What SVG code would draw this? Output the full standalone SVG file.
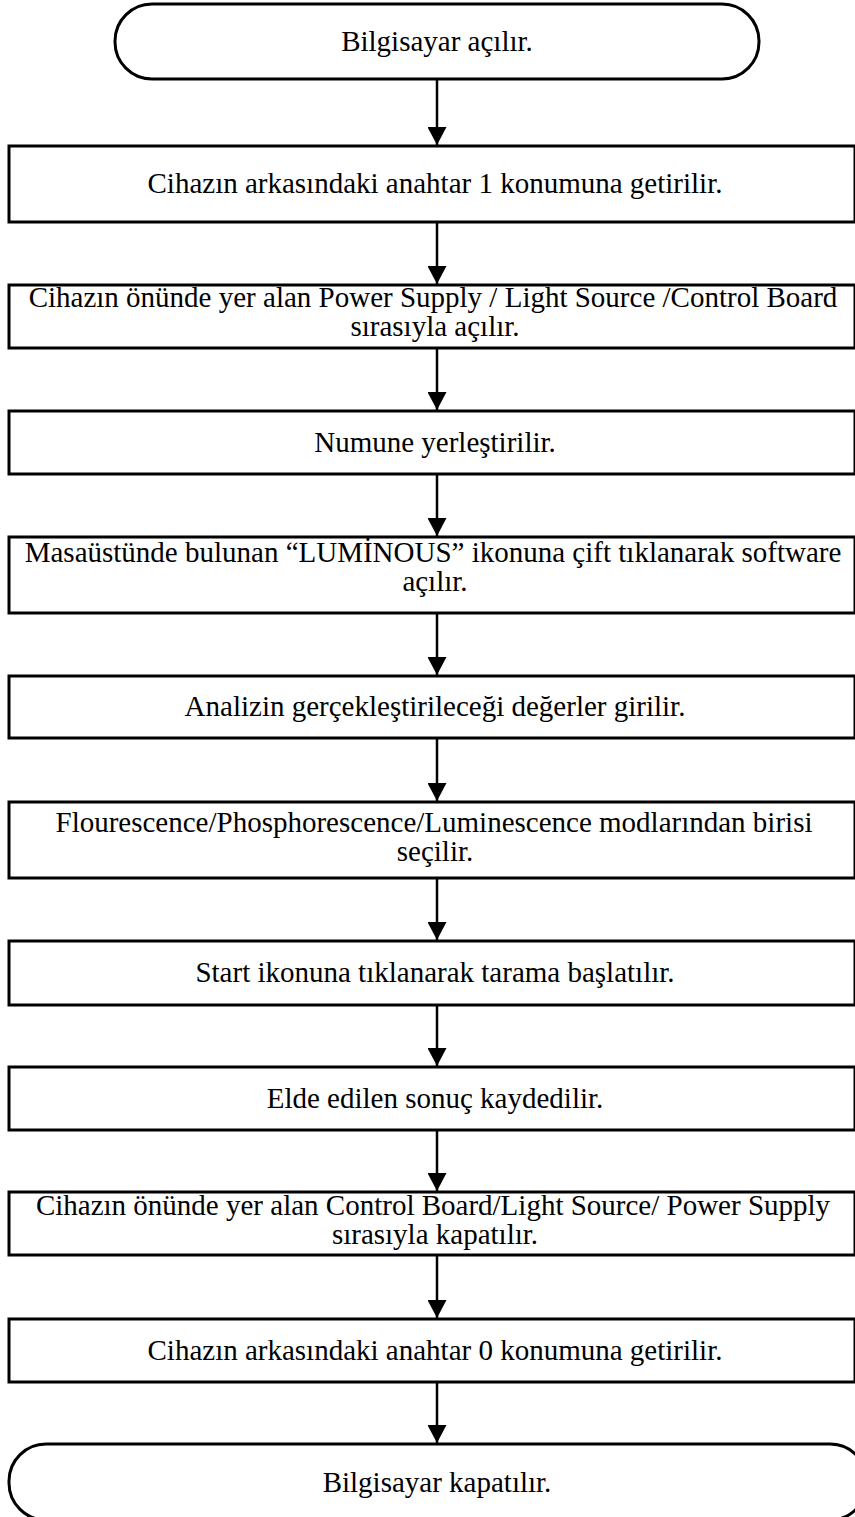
<svg xmlns="http://www.w3.org/2000/svg" width="855" height="1517" viewBox="0 0 855 1517">
<defs>
<style>
.box{fill:#fff;stroke:#000;stroke-width:3}
.t{font-family:"Liberation Serif","Times New Roman",serif;font-size:29px;fill:#000;text-anchor:middle}
.c{stroke:#000;stroke-width:2.5;fill:none}
</style>
<marker id="ah" markerWidth="18" markerHeight="19" refX="18" refY="9.5" orient="auto" markerUnits="userSpaceOnUse" viewBox="0 0 18 19"><path d="M0,0 L18,9.5 L0,19 Z" fill="#000"/></marker>
</defs>
<rect width="855" height="1517" fill="#fff"/>
<g id="connectors">
<line class="c" x1="437" y1="79" x2="437" y2="145" marker-end="url(#ah)"/>
<line class="c" x1="437" y1="222" x2="437" y2="284" marker-end="url(#ah)"/>
<line class="c" x1="437" y1="348" x2="437" y2="410" marker-end="url(#ah)"/>
<line class="c" x1="437" y1="474" x2="437" y2="536" marker-end="url(#ah)"/>
<line class="c" x1="437" y1="613" x2="437" y2="675" marker-end="url(#ah)"/>
<line class="c" x1="437" y1="738" x2="437" y2="801" marker-end="url(#ah)"/>
<line class="c" x1="437" y1="878" x2="437" y2="940" marker-end="url(#ah)"/>
<line class="c" x1="437" y1="1005" x2="437" y2="1066" marker-end="url(#ah)"/>
<line class="c" x1="437" y1="1130" x2="437" y2="1191" marker-end="url(#ah)"/>
<line class="c" x1="437" y1="1255" x2="437" y2="1318" marker-end="url(#ah)"/>
<line class="c" x1="437" y1="1382" x2="437" y2="1443" marker-end="url(#ah)"/>
</g>
<g id="start"><rect class="box" x="115" y="4" width="644" height="75" rx="37" ry="37"/><text class="t" x="437" y="51">Bilgisayar açılır.</text></g>
<g id="n1"><rect class="box" x="9" y="146" width="846" height="76"/><text class="t" x="435" y="193">Cihazın arkasındaki anahtar 1 konumuna getirilir.</text></g>
<g id="n2"><rect class="box" x="9" y="285" width="846" height="63"/><text class="t" x="433" y="307">Cihazın önünde yer alan Power Supply / Light Source /Control Board</text><text class="t" x="435" y="336">sırasıyla açılır.</text></g>
<g id="n3"><rect class="box" x="9" y="411" width="846" height="63"/><text class="t" x="435" y="452">Numune yerleştirilir.</text></g>
<g id="n4"><rect class="box" x="9" y="537" width="846" height="76"/><text class="t" x="433" y="562">Masaüstünde bulunan “LUMİNOUS” ikonuna çift tıklanarak software</text><text class="t" x="435" y="591">açılır.</text></g>
<g id="n5"><rect class="box" x="9" y="676" width="846" height="62"/><text class="t" x="435" y="716">Analizin gerçekleştirileceği değerler girilir.</text></g>
<g id="n6"><rect class="box" x="9" y="802" width="846" height="76"/><text class="t" x="434" y="832">Flourescence/Phosphorescence/Luminescence modlarından birisi</text><text class="t" x="435" y="861">seçilir.</text></g>
<g id="n7"><rect class="box" x="9" y="941" width="846" height="64"/><text class="t" x="435" y="982">Start ikonuna tıklanarak tarama başlatılır.</text></g>
<g id="n8"><rect class="box" x="9" y="1067" width="846" height="63"/><text class="t" x="435" y="1108">Elde edilen sonuç kaydedilir.</text></g>
<g id="n9"><rect class="box" x="9" y="1192" width="846" height="63"/><text class="t" x="433" y="1215">Cihazın önünde yer alan Control Board/Light Source/ Power Supply</text><text class="t" x="435" y="1244">sırasıyla kapatılır.</text></g>
<g id="n10"><rect class="box" x="9" y="1319" width="846" height="63"/><text class="t" x="435" y="1360">Cihazın arkasındaki anahtar 0 konumuna getirilir.</text></g>
<g id="end"><rect class="box" x="9" y="1444" width="858" height="76" rx="37" ry="37"/><text class="t" x="437" y="1492">Bilgisayar kapatılır.</text></g>
</svg>
